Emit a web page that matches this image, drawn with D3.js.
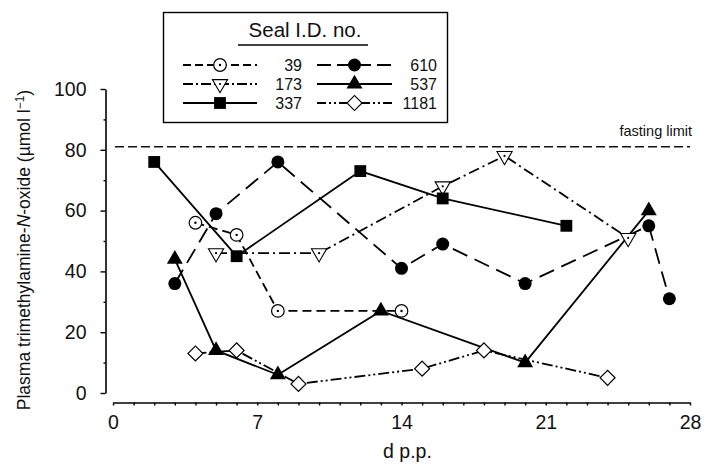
<!DOCTYPE html>
<html>
<head>
<meta charset="utf-8">
<script src="https://cdn.jsdelivr.net/npm/d3@7"></script>
<style>
  body { margin: 0; background: #fff; }
  svg { display: block; font-family: "Liberation Sans", Arial, Helvetica, sans-serif; }
</style>
</head>
<body>
<div id="chart"></div>
<script>
const width = 706;
const height = 468;

// data (day post partum, TMAO in umol/l)
const days39 = [4, 6, 8, 14];
const tmao39 = [56, 52, 27, 27];
const days173 = [5, 10, 16, 19, 25];
const tmao173 = [46, 46, 68, 78, 51];
const days337 = [2, 6, 12, 16, 22];
const tmao337 = [76, 45, 73, 64, 55];
const days610 = [3, 5, 8, 14, 16, 20, 26, 27];
const tmao610 = [36, 59, 76, 41, 49, 36, 55, 31];
const days537 = [3, 5, 8, 13, 20, 26];
const tmao537 = [44, 14, 6, 27, 10, 60];
const days1181 = [4, 6, 9, 15, 18, 24];
const tmao1181 = [13, 14, 3, 8, 14, 5];

const sealIds = ["39", "173", "337", "610", "537", "1181"];
const fastingLimit = 81;
const xTickLabels = [0, 7, 14, 21, 28];
const yTickLabels = [0, 20, 40, 60, 80, 100];

const series = [
  { id: "39",   days: days39,   vals: tmao39,   dash: "9,5",          marker: "circleDot" },
  { id: "173",  days: days173,  vals: tmao173,  dash: "11,4,2,4",     marker: "triDown" },
  { id: "337",  days: days337,  vals: tmao337,  dash: null,           marker: "square" },
  { id: "610",  days: days610,  vals: tmao610,  dash: "16,8",         marker: "circle" },
  { id: "537",  days: days537,  vals: tmao537,  dash: null,           marker: "triUp" },
  { id: "1181", days: days1181, vals: tmao1181, dash: "11,3,2,3,2,3", marker: "diamond" }
];
const legendDash = { "39": "8,4", "173": "10,3,2,3", "337": null, "610": "14,6", "537": null, "1181": "9,3,2,3,2,3" };

const svg = d3.select("#chart")
  .append("svg")
    .attr("width", width)
    .attr("height", height);

const x = d3.scaleLinear().domain([0, 28]).range([113, 690]);
const y = d3.scaleLinear().domain([0, 100]).range([393, 89]);

// y axis: major + minor ticks
const yAxis = svg.append("g")
  .attr("transform", "translate(105.5,0)")
  .call(d3.axisLeft(y).tickValues(yTickLabels).tickSize(5).tickSizeOuter(0).tickPadding(14));
yAxis.select(".domain").attr("stroke-width", 1.6);
yAxis.selectAll(".tick line").attr("stroke-width", 1.4);
yAxis.selectAll("text").style("font-size", "19.5px").attr("fill", "#111");

svg.append("g")
  .attr("transform", "translate(105.5,0)")
  .call(d3.axisLeft(y).tickValues([10, 30, 50, 70, 90]).tickSize(2).tickFormat(""))
  .call(g => g.select(".domain").remove())
  .selectAll(".tick line").attr("stroke-width", 1.4);

// x axis: daily ticks, labels every week
const xAxis = svg.append("g")
  .attr("transform", "translate(0,402.5)")
  .call(d3.axisBottom(x).tickValues(d3.range(0, 29)).tickSize(3).tickSizeOuter(0).tickPadding(10)
    .tickFormat(d => xTickLabels.includes(d) ? d : ""));
xAxis.select(".domain").attr("stroke-width", 1.6);
xAxis.selectAll(".tick line").attr("stroke-width", 1.4);
xAxis.selectAll("text").style("font-size", "19.5px").attr("fill", "#111");

// axis titles
svg.append("text")
  .attr("x", x(14) + 6)
  .attr("y", 458)
  .attr("text-anchor", "middle")
  .style("font-size", "19.5px")
  .attr("fill", "#111")
  .text("d p.p.");

const yTitle = svg.append("text")
  .attr("transform", "translate(30,250) rotate(-90)")
  .attr("text-anchor", "middle")
  .style("font-size", "17.5px")
  .attr("fill", "#111");
yTitle.append("tspan").text("Plasma trimethylamine-");
yTitle.append("tspan").style("font-style", "italic").text("N");
yTitle.append("tspan").text("-oxide (µmol l");
yTitle.append("tspan").attr("dy", -6).style("font-size", "12px").text("−1");
yTitle.append("tspan").attr("dy", 6).text(")");

// fasting limit
svg.append("line")
  .attr("x1", 115).attr("x2", x(28))
  .attr("y1", y(fastingLimit)).attr("y2", y(fastingLimit))
  .attr("stroke", "#111")
  .attr("stroke-width", 1.3)
  .attr("stroke-dasharray", "9,4");
svg.append("text")
  .attr("x", 692)
  .attr("y", y(fastingLimit) - 11)
  .attr("text-anchor", "end")
  .style("font-size", "14.5px")
  .attr("fill", "#111")
  .text("fasting limit");

// markers
function drawMarker(g, type, cx, cy) {
  if (type === "circle") {
    g.append("circle").attr("cx", cx).attr("cy", cy).attr("r", 6.5).attr("fill", "#000");
  } else if (type === "circleDot") {
    g.append("circle").attr("cx", cx).attr("cy", cy).attr("r", 6.3)
      .attr("fill", "#fff").attr("stroke", "#000").attr("stroke-width", 1.2);
    g.append("circle").attr("cx", cx).attr("cy", cy).attr("r", 1.2).attr("fill", "#000");
  } else if (type === "square") {
    g.append("path").attr("d", d3.symbol(d3.symbolSquare, 140)())
      .attr("transform", `translate(${cx},${cy})`).attr("fill", "#000");
  } else if (type === "triUp") {
    g.append("path").attr("d", d3.symbol(d3.symbolTriangle, 110)())
      .attr("transform", `translate(${cx},${cy})`).attr("fill", "#000");
  } else if (type === "triDown") {
    g.append("path").attr("d", d3.symbol(d3.symbolTriangle, 100)())
      .attr("transform", `translate(${cx},${cy}) rotate(180)`)
      .attr("fill", "#fff").attr("stroke", "#000").attr("stroke-width", 1.1);
    g.append("circle").attr("cx", cx).attr("cy", cy).attr("r", 1.1).attr("fill", "#000");
  } else if (type === "diamond") {
    g.append("path").attr("d", d3.symbol(d3.symbolSquare, 112)())
      .attr("transform", `translate(${cx},${cy}) rotate(45)`)
      .attr("fill", "#fff").attr("stroke", "#000").attr("stroke-width", 1.2);
  }
}

const line = d3.line().x(d => x(d[0])).y(d => y(d[1]));

series.forEach(s => {
  const pts = s.days.map((d, i) => [d, s.vals[i]]);
  svg.append("path")
    .datum(pts)
    .attr("fill", "none")
    .attr("stroke", "#000")
    .attr("stroke-width", 1.8)
    .attr("stroke-dasharray", s.dash)
    .attr("d", line);
});
series.forEach(s => {
  const g = svg.append("g");
  s.days.forEach((d, i) => drawMarker(g, s.marker, x(d), y(s.vals[i])));
});

// legend
const lg = svg.append("g");
lg.append("rect")
  .attr("x", 163.5).attr("y", 12.5)
  .attr("width", 284).attr("height", 110)
  .attr("fill", "#fff")
  .attr("stroke", "#000")
  .attr("stroke-width", 1.4);
lg.append("text")
  .attr("x", 305).attr("y", 37)
  .attr("text-anchor", "middle")
  .style("font-size", "20.5px")
  .attr("fill", "#111")
  .text("Seal I.D. no.");
lg.append("line")
  .attr("x1", 238).attr("x2", 368)
  .attr("y1", 45).attr("y2", 45)
  .attr("stroke", "#000").attr("stroke-width", 1.4);

const rowY = [65, 84, 103];
series.forEach((s, i) => {
  const col = i < 3 ? 0 : 1;
  const ry = rowY[i % 3];
  const x1 = col === 0 ? 183 : 317;
  const x2 = col === 0 ? 257 : 392;
  lg.append("line")
    .attr("x1", x1).attr("x2", x2)
    .attr("y1", ry).attr("y2", ry)
    .attr("stroke", "#000")
    .attr("stroke-width", 1.8)
    .attr("stroke-dasharray", legendDash[s.id]);
  drawMarker(lg, s.marker, (x1 + x2) / 2, ry);
  lg.append("text")
    .attr("x", col === 0 ? 302 : 437).attr("y", ry + 6)
    .attr("text-anchor", "end")
    .style("font-size", "16px")
    .attr("fill", "#111")
    .text(sealIds[i]);
});
</script>
</body>
</html>
